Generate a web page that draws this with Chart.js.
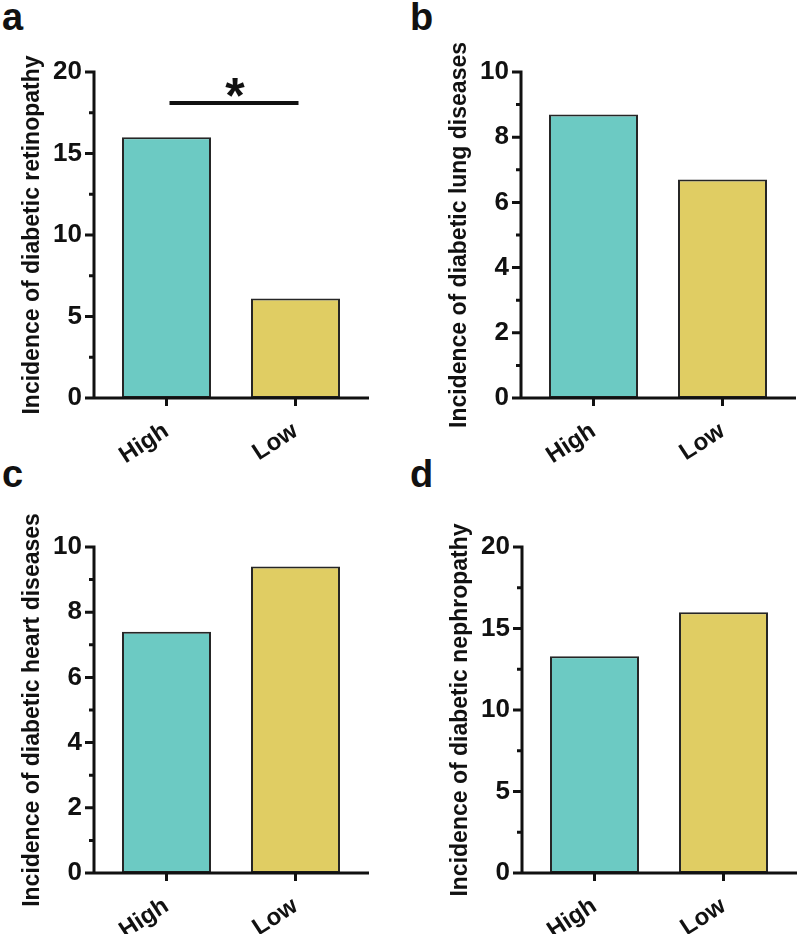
<!DOCTYPE html>
<html lang="en">
<head>
    <meta charset="UTF-8">
    <title>Incidence of diabetic complications</title>
    <script src="https://cdn.jsdelivr.net/npm/chart.js"></script>
    <style>
        body { margin: 0; background: #fff; }
        .figure { position: relative; width: 800px; height: 934px; }
        .figure canvas { position: absolute; }
        .panel-tag {
            position: absolute;
            font: bold 38px "Liberation Sans", Arial, sans-serif;
            line-height: 1;
            color: #111;
        }
    </style>
</head>
<body>
    <div class="figure">
        <div class="panel-tag" style="left:2px; top:-2px;">a</div>
        <div class="panel-tag" style="left:410px; top:-2px;">b</div>
        <div class="panel-tag" style="left:2px; top:455px;">c</div>
        <div class="panel-tag" style="left:410px; top:455px;">d</div>
        <canvas id="chartA" width="400" height="467" style="left:0; top:0;"></canvas>
        <canvas id="chartB" width="400" height="467" style="left:400px; top:0;"></canvas>
        <canvas id="chartC" width="400" height="467" style="left:0; top:467px;"></canvas>
        <canvas id="chartD" width="400" height="467" style="left:400px; top:467px;"></canvas>
    </div>
    <script>
        // dados
        const groups = ['High', 'Low'];
        const retinopathy = [16.0, 6.1];
        const lungDiseases = [8.7, 6.7];
        const heartDiseases = [7.4, 9.4];
        const nephropathy = [13.3, 16.0];
        const barColors = ['#6ccac3', '#e0cd63'];
        // significance bar in panel a (between High and Low)
        const sigLevel = 18.1;
        const sigLabel = '*';

        const FONT = '"Liberation Sans", Arial, sans-serif';
        const INK = '#111';

        // axes drawn by hand: Prism style with the y axis pulled away from the bars
        const prismAxes = {
            id: 'prismAxes',
            afterDraw(chart, args, opts) {
                const ctx = chart.ctx;
                const x = chart.scales.x, y = chart.scales.y;
                const area = chart.chartArea;
                const axisX = area.left - 8;
                const y0 = y.getPixelForValue(0);
                ctx.save();
                ctx.strokeStyle = INK;
                ctx.lineWidth = 3;
                ctx.lineCap = 'butt';
                ctx.beginPath();
                ctx.moveTo(axisX, y.getPixelForValue(y.max) - 1.5);
                ctx.lineTo(axisX, y0 + 1.5);
                ctx.moveTo(axisX, y0);
                ctx.lineTo(area.right + 9, y0);
                // y ticks, major and minor
                for (let v = 0; v <= y.max + 1e-9; v += opts.minor) {
                    const py = y.getPixelForValue(v);
                    const isMajor = Math.abs(v / opts.major - Math.round(v / opts.major)) < 1e-6;
                    ctx.moveTo(axisX - (isMajor ? 9 : 5), py);
                    ctx.lineTo(axisX, py);
                }
                // x ticks
                groups.forEach((g, i) => {
                    const px = x.getPixelForValue(i);
                    ctx.moveTo(px, y0);
                    ctx.lineTo(px, y0 + 8);
                });
                ctx.stroke();

                if (opts.sig) {
                    const sy = y.getPixelForValue(sigLevel);
                    ctx.lineWidth = 4;
                    ctx.beginPath();
                    ctx.moveTo(x.getPixelForValue(0) + 3, sy);
                    ctx.lineTo(x.getPixelForValue(1) + 3, sy);
                    ctx.stroke();
                    ctx.fillStyle = INK;
                    ctx.font = 'bold 50px ' + FONT;
                    ctx.textAlign = 'center';
                    ctx.textBaseline = 'alphabetic';
                    ctx.fillText(sigLabel, (x.getPixelForValue(0) + x.getPixelForValue(1)) / 2 + 4, sy + 10);
                }
                ctx.restore();
            }
        };

        function makePanel(id, values, yMax, major, minor, title, pad, xHeight, sig) {
            new Chart(document.getElementById(id), {
                type: 'bar',
                data: {
                    labels: groups,
                    datasets: [{
                        data: values,
                        backgroundColor: barColors,
                        borderColor: '#262626',
                        borderWidth: 2,
                        borderSkipped: false,
                        barPercentage: 0.69,
                        categoryPercentage: 1
                    }]
                },
                options: {
                    responsive: false,
                    animation: false,
                    layout: { padding: pad },
                    plugins: {
                        legend: { display: false },
                        tooltip: { enabled: false },
                        prismAxes: { major: major, minor: minor, sig: sig }
                    },
                    scales: {
                        x: {
                            grid: { display: false },
                            border: { display: false },
                            ticks: {
                                color: INK,
                                font: { family: FONT, size: 24, weight: 'bold' },
                                minRotation: 33,
                                maxRotation: 33,
                                padding: 11
                            },
                            afterFit: s => { s.height = xHeight; }
                        },
                        y: {
                            min: 0,
                            max: yMax,
                            grid: { display: false, drawTicks: false },
                            border: { display: false },
                            ticks: {
                                stepSize: major,
                                color: INK,
                                font: { family: FONT, size: 26, weight: 'bold' },
                                padding: 20
                            },
                            title: {
                                display: true,
                                text: title,
                                color: INK,
                                font: { family: FONT, size: 23, weight: 'bold' },
                                padding: { top: 19, bottom: 0 }
                            },
                            afterFit: s => { s.width = 102; }
                        }
                    }
                },
                plugins: [prismAxes]
            });
        }

        makePanel('chartA', retinopathy, 20, 5, 2.5, 'Incidence of diabetic retinopathy',
            { top: 72, right: 40, left: 0, bottom: 0 }, 69, true);
        makePanel('chartB', lungDiseases, 10, 2, 1, 'Incidence of diabetic lung diseases',
            { top: 72, right: 13, left: 27, bottom: 0 }, 69, false);
        makePanel('chartC', heartDiseases, 10, 2, 1, 'Incidence of diabetic heart diseases',
            { top: 80, right: 40, left: 0, bottom: 0 }, 61, false);
        makePanel('chartD', nephropathy, 20, 5, 2.5, 'Incidence of diabetic nephropathy',
            { top: 80, right: 12, left: 28, bottom: 0 }, 61, false);
    </script>
</body>
</html>
